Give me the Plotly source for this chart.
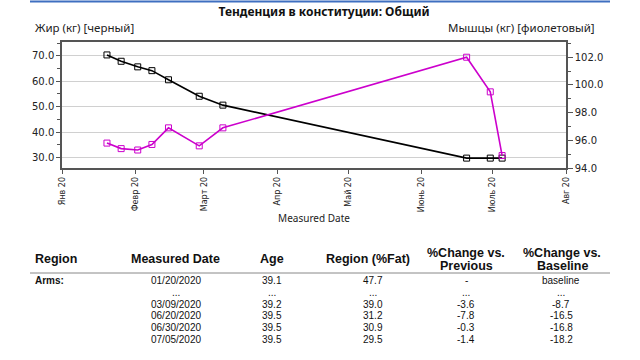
import plotly.graph_objects as go

# ---- chart data ----
dates = ["2020-01-20", "2020-01-26", "2020-02-02", "2020-02-08", "2020-02-15",
         "2020-02-28", "2020-03-09", "2020-06-20", "2020-06-30", "2020-07-05"]
fat_kg = [70.4, 67.9, 65.7, 64.2, 60.6, 54.1, 50.6, 29.7, 29.7, 29.7]
muscle_kg = [95.8, 95.4, 95.3, 95.7, 96.9, 95.6, 96.9, 102.0, 99.5, 94.9]
month_ticks = ["2020-01-01", "2020-02-01", "2020-03-01", "2020-04-01",
               "2020-05-01", "2020-06-01", "2020-07-01", "2020-08-01"]
month_labels = ["Янв 20", "Февр 20", "Март 20", "Апр 20",
                "Май 20", "Июнь 20", "Июль 20", "Авг 20"]

chart_title = "Тенденция в конституции: Общий"
left_title = "Жир (кг) [черный]"
right_title = "Мышцы (кг) [фиолетовый]"
x_title = "Measured Date"

# ---- table data ----
table_headers = ["Region", "Measured Date", "Age", "Region (%Fat)",
                 "%Change vs.|Previous", "%Change vs.|Baseline"]
table_region = ["Arms:", "", "", "", "", ""]
table_dates = ["01/20/2020", "...", "03/09/2020", "06/20/2020", "06/30/2020", "07/05/2020"]
table_age = ["39.1", "...", "39.2", "39.5", "39.5", "39.5"]
table_fat = ["47.7", "...", "39.0", "31.2", "30.9", "29.5"]
table_prev = ["-", "...", "-3.6", "-7.8", "-0.3", "-1.4"]
table_base = ["baseline", "...", "-8.7", "-16.5", "-16.8", "-18.2"]

# ---- layout geometry (pixels) ----
W, H = 640, 360
PL, PR, PT, PB = 62, 566, 42, 168
PW, PH = PR - PL, PB - PT


def px(x):
    return (x - PL) / PW


def py(y):
    return (PB - y) / PH


BLACK = "#000000"
MAGENTA = "#CC00CC"
AXIS = "#555555"

fig = go.Figure()
fig.add_trace(go.Scatter(
    x=dates, y=fat_kg, mode="lines+markers", yaxis="y",
    line=dict(color=BLACK, width=1.6),
    marker=dict(symbol="square-open", size=6, color=BLACK, line=dict(width=1)),
    showlegend=False, cliponaxis=False, hoverinfo="skip"))
fig.add_trace(go.Scatter(
    x=dates, y=muscle_kg, mode="lines+markers", yaxis="y2",
    line=dict(color=MAGENTA, width=1.6),
    marker=dict(symbol="square-open", size=6, color=MAGENTA, line=dict(width=1)),
    showlegend=False, cliponaxis=False, hoverinfo="skip"))

tick_font = dict(family="DejaVu Sans", size=10, color="#222222")

fig.update_layout(
    width=W, height=H,
    margin=dict(l=PL, r=W - PR, t=PT, b=H - PB, pad=0),
    paper_bgcolor="white", plot_bgcolor="white",
    title=dict(text="<b>" + chart_title + "</b>", x=324 / W, xanchor="center",
               y=1 - 12 / H, yanchor="middle", yref="container",
               font=dict(family="Noto Sans", size=12, color="#111111")),
    xaxis=dict(
        type="date", range=["2020-01-01", "2020-08-01"],
        tickvals=month_ticks, ticktext=month_labels, tickangle=-90,
        tickfont=dict(family="DejaVu Sans", size=8, color="#222222"),
        ticks="outside", ticklen=4, tickcolor=AXIS,
        showline=True, linecolor=AXIS, linewidth=1.5, mirror=True,
        showgrid=False, zeroline=False,
        title=dict(text=x_title, standoff=4,
                   font=dict(family="Noto Sans", size=10, color="#222222")),
    ),
    yaxis=dict(
        range=[25.8, 75.5], tickvals=[30, 40, 50, 60, 70], tickformat=".1f",
        tickfont=tick_font, ticks="outside", ticklen=4, tickcolor=AXIS,
        minor=dict(tickvals=[35, 45, 55, 65, 75], ticks="outside", ticklen=3,
                   tickcolor=AXIS, showgrid=False),
        showline=True, linecolor=AXIS, linewidth=1.5,
        showgrid=True, gridcolor="#d0d0d0", gridwidth=1, zeroline=False,
    ),
    yaxis2=dict(
        overlaying="y", side="right",
        range=[94, 103.1], tickvals=[94, 96, 98, 100, 102], tickformat=".1f",
        tickfont=tick_font, ticks="outside", ticklen=5, tickcolor=AXIS,
        minor=dict(tickvals=[95, 97, 99, 101, 103], ticks="outside", ticklen=3,
                   tickcolor=AXIS, showgrid=False),
        showline=True, linecolor=AXIS, linewidth=1.5,
        showgrid=False, zeroline=False,
    ),
)

annotations = []
# y-axis titles
annotations.append(dict(text=left_title, x=px(33), y=py(28), xref="paper", yref="paper",
                        xanchor="left", yanchor="middle", showarrow=False,
                        font=dict(family="Noto Sans", size=11.5, color="#222222")))
annotations.append(dict(text=right_title, x=px(597), y=py(28), xref="paper", yref="paper",
                        xanchor="right", yanchor="middle", showarrow=False,
                        font=dict(family="Noto Sans", size=11.5, color="#222222")))

# table
head_font = dict(family="Liberation Sans", size=12.5, color="#111111")
body_font = dict(family="Liberation Sans", size=10, color="#111111")
col_head_x = [33, 175.5, 272, 368, 466, 562]
col_body_x = [33, 175.5, 272, 373, 466, 561]
for i, h in enumerate(table_headers):
    lines = h.split("|")
    ys = [259] if len(lines) == 1 else [253, 266]
    for ln, yy in zip(lines, ys):
        annotations.append(dict(text="<b>" + ln + "</b>", x=px(col_head_x[i]), y=py(yy),
                                xref="paper", yref="paper",
                                xanchor="left" if i == 0 else "center", yanchor="middle",
                                showarrow=False, font=head_font))

columns = [table_region, table_dates, table_age, table_fat, table_prev, table_base]
row_y0, row_dy = 280.7, 11.7
for ci, col in enumerate(columns):
    for ri, val in enumerate(col):
        if not val:
            continue
        txt = "<b>" + val + "</b>" if ci == 0 else val
        annotations.append(dict(text=txt, x=px(col_body_x[ci]), y=py(row_y0 + ri * row_dy),
                                xref="paper", yref="paper",
                                xanchor="left" if ci == 0 else "center", yanchor="middle",
                                showarrow=False, font=body_font))
fig.update_layout(annotations=annotations)

# top blue rule and table header rule
fig.add_shape(type="line", xref="paper", yref="paper",
              x0=px(30), x1=px(610), y0=py(1.5), y1=py(1.5),
              line=dict(color="#3f6fc0", width=2))
fig.add_shape(type="line", xref="paper", yref="paper",
              x0=px(30), x1=px(610), y0=py(273), y1=py(273),
              line=dict(color="#888888", width=1))

fig.write_html("out.html", config={"displayModeBar": False},
               post_script="document.body.style.margin='0';document.body.style.overflow='hidden';")
